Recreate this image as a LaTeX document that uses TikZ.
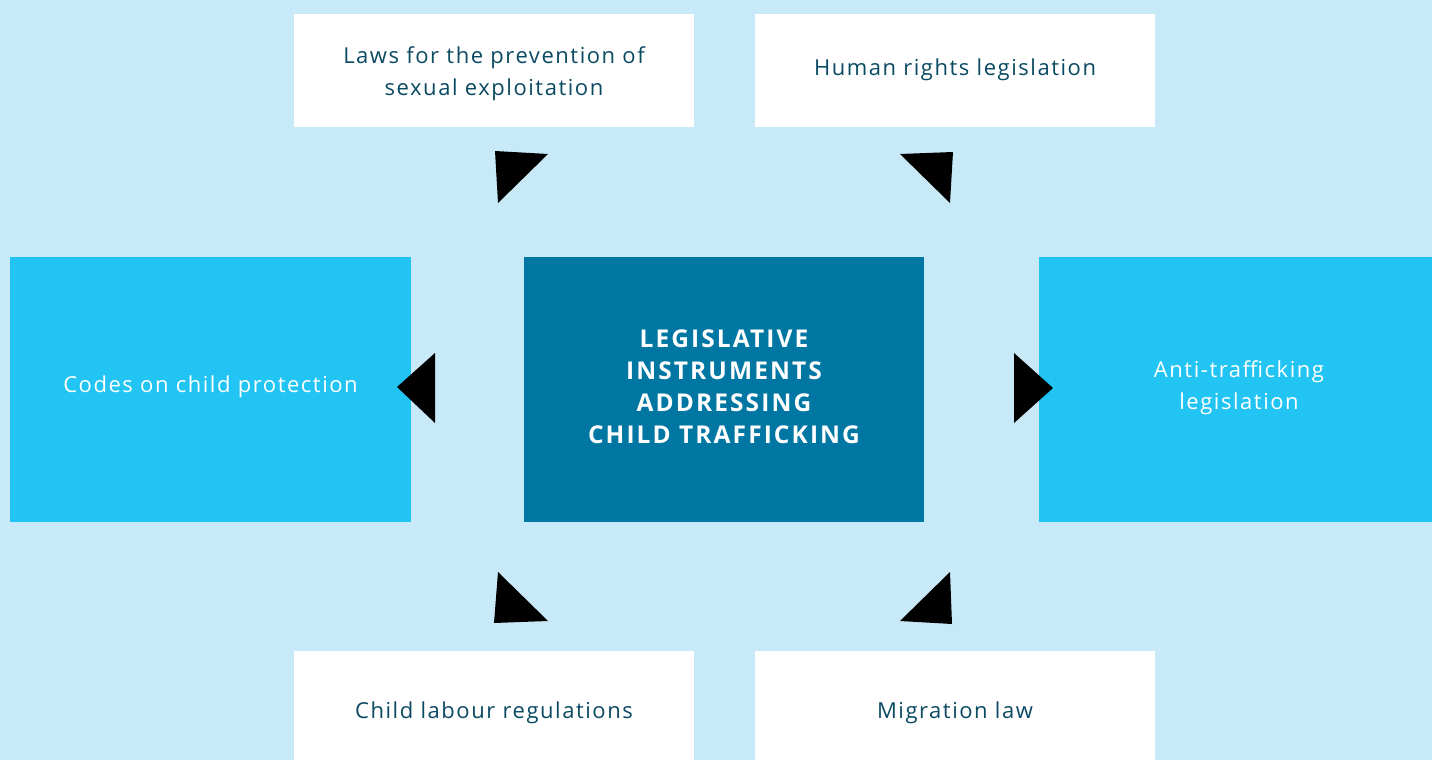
\documentclass[tikz,border=0pt]{standalone}
\usepackage{fontspec}
\setmainfont{Open Sans}
\definecolor{bgblue}{HTML}{C7E9F8}
\definecolor{cyanbox}{HTML}{21C4F2}
\definecolor{darkbox}{HTML}{0077A3}
\definecolor{tealtext}{HTML}{0B4A63}
\begin{document}
\begin{tikzpicture}[x=1pt,y=-1pt,
  whitebox/.style={fill=white, minimum width=400pt, minimum height=113pt, inner sep=0pt},
  sidebox/.style={fill=cyanbox, minimum width=401pt, minimum height=265pt, inner sep=0pt},
  centerbox/.style={fill=darkbox, minimum width=400pt, minimum height=265pt, inner sep=0pt},
  darklabel/.style={text=tealtext, align=center, inner sep=0pt,
    font=\fontsize{22}{32}\selectfont\addfontfeatures{LetterSpace=7}},
  lightlabel/.style={text=white, align=center, inner sep=0pt,
    font=\fontsize{22}{32}\selectfont\addfontfeatures{LetterSpace=7}},
  boldlabel/.style={text=white, align=center, inner sep=0pt,
    font=\bfseries\fontsize{24.5}{32}\selectfont\addfontfeatures{LetterSpace=8.5}},
  tri/.style={fill=black}]
\useasboundingbox (0,0) rectangle (1432,760);
\clip (0,0) rectangle (1432,760);
\fill[bgblue] (0,0) rectangle (1432,760);
\node[whitebox] (laws) at (494,70.5) {};
\node[whitebox] (human) at (955,70.5) {};
\node[sidebox] (codes) at (210.5,389.5) {};
\node[centerbox] (center) at (724,389.5) {};
\node[sidebox, minimum width=400pt] (anti) at (1239,389.5) {};
\node[whitebox] (labour) at (494,707.5) {};
\node[whitebox] (migration) at (955,707.5) {};
\node[darklabel] (lawsT) at (494,74) {Laws for the prevention of\\sexual exploitation};
\node[darklabel] (humanT) at (955,70) {Human rights legislation};
\node[lightlabel] (codesT) at (210.5,387) {Codes on child protection};
\node[boldlabel] (centerT) at (724,387) {LEGISLATIVE\\INSTRUMENTS\\ADDRESSING\\CHILD TRAFFICKING};
\node[lightlabel] (antiT) at (1239,388) {Anti-trafficking\\legislation};
\node[darklabel] (labourT) at (494,713) {Child labour regulations};
\node[darklabel] (migrationT) at (955,713) {Migration law};
% arrowheads
\fill[tri] (495,151) -- (548,154) -- (498,203) -- cycle;
\fill[tri] (900,154) -- (953,152) -- (950,203) -- cycle;
\fill[tri] (435,353) -- (397,387) -- (435,423) -- cycle;
\fill[tri] (1014,353) -- (1053,388) -- (1014,423) -- cycle;
\fill[tri] (498,572) -- (548,621) -- (494,623) -- cycle;
\fill[tri] (950,572) -- (952,624) -- (900,621) -- cycle;
\end{tikzpicture}
\end{document}
